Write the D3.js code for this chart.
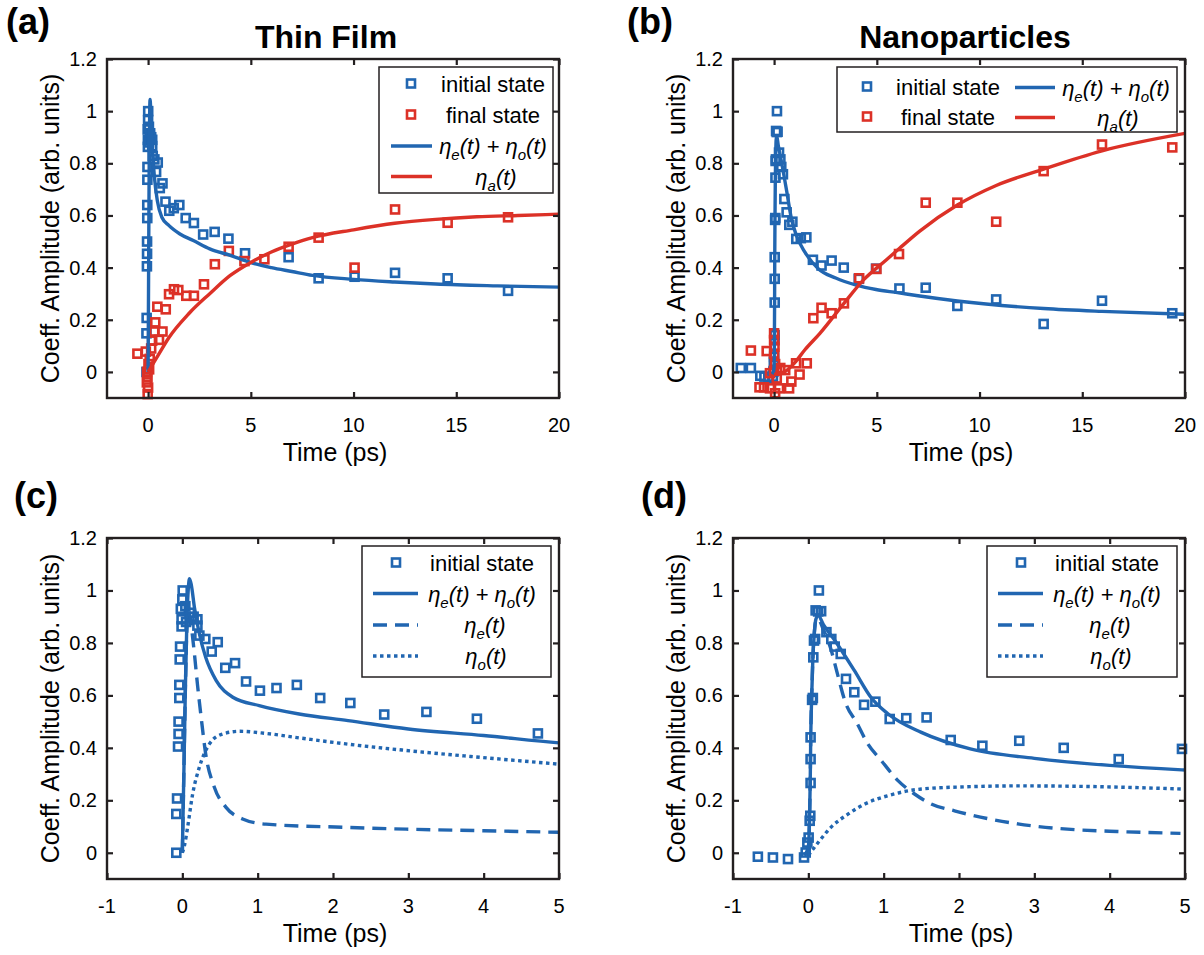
<!DOCTYPE html>
<html>
<head>
<meta charset="utf-8">
<script src="https://cdn.jsdelivr.net/npm/d3@7"></script>
<style>
  body { margin: 0; background: #fff; }
  text { font-family: "Liberation Sans", Arial, Helvetica, sans-serif; fill: #000; }
</style>
</head>
<body>
<svg id="fig" width="1204" height="955"></svg>
<script>
// ---------- data ----------
const longTimeTicks = [0, 5, 10, 15, 20];
const shortTimeTicks = [-1, 0, 1, 2, 3, 4, 5];
const ampTicks = [0, 0.2, 0.4, 0.6, 0.8, 1, 1.2];
const ampTickLabels = ["0", "0.2", "0.4", "0.6", "0.8", "1", "1.2"];

// Thin film: measured initial-state coefficient [time ps, amplitude]
const thinInitial = [
  [-0.08, 0.0], [-0.08, 0.148], [-0.07, 0.207], [-0.057, 0.405], [-0.05, 0.453], [-0.05, 0.5],
  [-0.04, 0.59], [-0.04, 0.64], [-0.035, 0.737], [-0.03, 0.786], [0.005, 1.0], [0.0, 0.966],
  [-0.02, 0.93], [0.1, 0.915], [-0.01, 0.89], [0.15, 0.9], [-0.01, 0.863], [0.05, 0.88],
  [0.04, 0.94], [0.2, 0.89], [0.2, 0.866], [0.226, 0.828], [0.305, 0.815], [0.39, 0.767],
  [0.47, 0.803], [0.57, 0.705], [0.70, 0.723], [0.846, 0.653], [1.03, 0.618], [1.25, 0.628],
  [1.52, 0.64], [1.83, 0.59], [2.23, 0.571], [2.68, 0.527], [3.24, 0.537], [3.91, 0.511],
  [4.72, 0.455], [6.84, 0.44], [8.3, 0.359], [10.05, 0.365], [12.02, 0.38], [14.58, 0.359],
  [17.52, 0.311]
];
// Thin film: measured final-state coefficient
const thinFinal = [
  [-0.52, 0.07], [-0.11, 0.078], [-0.05, 0.0], [-0.03, -0.02], [-0.06, -0.04], [0.0, -0.06],
  [-0.02, -0.085], [0.02, 0.03], [0.08, 0.05], [0.05, 0.01], [0.15, 0.09], [0.2, 0.12],
  [0.3, 0.155], [0.53, 0.123], [0.7, 0.155], [0.35, 0.19], [0.45, 0.25], [0.86, 0.24],
  [1.02, 0.298], [1.26, 0.317], [1.47, 0.314], [1.86, 0.292], [2.23, 0.292], [2.72, 0.336],
  [3.25, 0.413], [3.93, 0.464], [4.69, 0.425], [5.66, 0.432], [6.84, 0.48], [8.3, 0.515],
  [10.05, 0.40], [12.02, 0.623], [14.58, 0.572], [17.52, 0.593]
];
// Thin film model curves
const thinSum = [
  [0, 0], [0.02, 0.3], [0.04, 0.62], [0.06, 0.88], [0.08, 1.01], [0.095, 1.045], [0.12, 1.02],
  [0.16, 0.936], [0.226, 0.835], [0.31, 0.745], [0.45, 0.656], [0.67, 0.593], [1.02, 0.561],
  [1.55, 0.529], [2.2, 0.504], [3, 0.472], [4, 0.447], [5, 0.419], [6, 0.40], [7, 0.385],
  [8, 0.37], [10, 0.355], [12, 0.345], [14, 0.337], [17, 0.33], [20, 0.325]
];
const thinEven = [
  [0, 0], [0.02, 0.3], [0.04, 0.62], [0.06, 0.85], [0.085, 0.92], [0.1, 0.905], [0.115, 0.873],
  [0.16, 0.76], [0.2, 0.644], [0.25, 0.516], [0.31, 0.377], [0.425, 0.25], [0.58, 0.173],
  [0.8, 0.129], [1.11, 0.109], [2.17, 0.097], [2.97, 0.09], [4, 0.084], [5, 0.078]
];
const thinOdd = [
  [0, 0], [0.03, 0.03], [0.07, 0.097], [0.137, 0.224], [0.226, 0.326], [0.36, 0.415],
  [0.535, 0.453], [0.757, 0.463], [1.11, 0.455], [1.55, 0.438], [2.17, 0.415], [2.97, 0.39],
  [3.99, 0.363], [4.99, 0.338]
];
const thinAnti = [
  [0, 0], [0.5, 0.065], [1, 0.13], [2, 0.225], [3, 0.3], [4, 0.37], [5, 0.42], [6, 0.46],
  [7, 0.49], [8, 0.515], [10, 0.545], [12, 0.57], [14, 0.585], [16, 0.595], [18, 0.6], [20, 0.605]
];

// Nanoparticles: measured initial-state coefficient
const nanoInitial = [
  [-1.62, 0.015], [-1.13, 0.015], [-0.67, -0.015], [-0.47, -0.018], [-0.27, -0.024],
  [-0.057, -0.018], [-0.035, 0.001], [-0.013, 0.039], [0.004, 0.058], [0.018, 0.122],
  [0.026, 0.141], [0.03, 0.266], [0.03, 0.357], [0.03, 0.44], [0.05, 0.583], [0.06, 0.59],
  [0.066, 0.745], [0.075, 0.809], [0.09, 0.815], [0.097, 0.924], [0.13, 0.92], [0.14, 1.0],
  [0.17, 0.921], [0.24, 0.841], [0.305, 0.815], [0.35, 0.786], [0.43, 0.758], [0.50, 0.663],
  [0.61, 0.612], [0.74, 0.564], [0.89, 0.576], [1.08, 0.51], [1.3, 0.513], [1.57, 0.516],
  [1.89, 0.43], [2.31, 0.408], [2.8, 0.427], [3.39, 0.40], [4.12, 0.357], [4.96, 0.396],
  [6.1, 0.32], [7.38, 0.323], [8.92, 0.253], [10.81, 0.278], [13.12, 0.184], [15.96, 0.273],
  [19.38, 0.225]
];
// Nanoparticles: measured final-state coefficient
const nanoFinal = [
  [-1.13, 0.082], [-0.36, 0.08], [-0.71, -0.059], [-0.49, -0.059], [-0.2, -0.063], [0.05, -0.082],
  [0.24, -0.063], [0.73, -0.063], [0.84, -0.037], [1.24, -0.01], [1.59, 0.033], [1.07, 0.033],
  [0.54, 0.007], [0.0, 0.148], [0.0, 0.122], [0.02, 0.097], [0.0, 0.07], [0.05, 0.03],
  [0.0, 0.005], [0.13, -0.025], [-0.2, -0.005], [0.3, 0.015], [1.91, 0.206], [2.31, 0.246],
  [2.8, 0.225], [3.4, 0.263], [4.14, 0.359], [4.98, 0.395], [6.08, 0.452], [7.38, 0.649],
  [8.92, 0.649], [10.81, 0.576], [13.12, 0.77], [15.96, 0.872], [19.38, 0.861]
];
// Nanoparticle model curves
const nanoSum = [
  [-0.05, -0.01], [0, 0.02], [0.015, 0.12], [0.025, 0.27], [0.032, 0.44], [0.045, 0.6],
  [0.06, 0.74], [0.08, 0.84], [0.1, 0.89], [0.13, 0.905], [0.2, 0.87], [0.35, 0.81],
  [0.61, 0.695], [0.83, 0.593], [1.06, 0.529], [1.5, 0.459], [2.15, 0.396], [3.0, 0.36],
  [4.0, 0.333], [4.96, 0.316], [6, 0.304], [7, 0.292], [8.92, 0.272], [13.12, 0.243],
  [15.96, 0.232], [20, 0.221]
];
const nanoEven = [
  [-0.05, -0.01], [0, 0.02], [0.015, 0.12], [0.025, 0.27], [0.032, 0.44], [0.045, 0.6],
  [0.06, 0.74], [0.08, 0.84], [0.1, 0.885], [0.13, 0.89], [0.2, 0.85], [0.305, 0.771],
  [0.37, 0.7], [0.5, 0.567], [0.64, 0.497], [0.79, 0.415], [0.97, 0.351], [1.19, 0.275],
  [1.41, 0.224], [1.63, 0.186], [1.94, 0.16], [2.78, 0.11], [3.44, 0.09], [4.1, 0.081],
  [4.94, 0.074]
];
const nanoOdd = [
  [0, -0.01], [0.13, 0.039], [0.3, 0.097], [0.53, 0.148], [0.75, 0.186], [1.06, 0.218],
  [1.5, 0.243], [2.15, 0.252], [2.78, 0.255], [3.66, 0.253], [4.96, 0.243]
];
const nanoAnti = [
  [0, -0.01], [0.5, 0.0], [1, 0.035], [1.5, 0.085], [2.23, 0.148], [3.4, 0.263], [4.34, 0.352],
  [5.47, 0.43], [6.12, 0.475], [7.09, 0.54], [8.92, 0.64], [10.81, 0.715], [13.12, 0.778],
  [15.96, 0.848], [20, 0.915]
];

// ---------- styling ----------
const BLUE = "#2166b1";
const RED = "#dc3127";
const AXIS = "#231f20";
const DASH = "14,8";
const DOT = "3.5,3.5";

const svg = d3.select("#fig");

const sumLabel = [{s: "η"}, {s: "e", sub: true}, {s: "(t) + "}, {s: "η"}, {s: "o", sub: true}, {s: "(t)"}];
const evenLabel = [{s: "η"}, {s: "e", sub: true}, {s: "(t)"}];
const oddLabel = [{s: "η"}, {s: "o", sub: true}, {s: "(t)"}];
const antiLabel = [{s: "η"}, {s: "a", sub: true}, {s: "(t)"}];

const panels = [
  {
    key: "a", letter: "(a)", letterX: 6, letterY: 34, title: "Thin Film", titleX: 326,
    left: 107, right: 559, top: 59, bottom: 398, xDomain: [-2, 20], xTicks: longTimeTicks,
    points: [{data: thinInitial, color: BLUE}, {data: thinFinal, color: RED}],
    curves: [{data: thinSum, color: BLUE}, {data: thinAnti, color: RED}],
    legend: {x: 379, y: 67, w: 174, h: 126, items: [
      {kind: "square", color: BLUE, sx: 411, y: 83.5, label: [{s: "initial state", plain: true}], tx: 493},
      {kind: "square", color: RED, sx: 411, y: 114.5, label: [{s: "final state", plain: true}], tx: 493},
      {kind: "line", color: BLUE, x1: 391, x2: 432, y: 146, label: sumLabel, tx: 493},
      {kind: "line", color: RED, x1: 391, x2: 432, y: 176.5, label: antiLabel, tx: 496}
    ]}
  },
  {
    key: "b", letter: "(b)", letterX: 627, letterY: 34, title: "Nanoparticles", titleX: 965,
    left: 733, right: 1185, top: 59, bottom: 398, xDomain: [-2, 20], xTicks: longTimeTicks,
    points: [{data: nanoInitial, color: BLUE}, {data: nanoFinal, color: RED}],
    curves: [{data: nanoSum, color: BLUE}, {data: nanoAnti, color: RED}],
    legend: {x: 837, y: 67, w: 340, h: 65, items: [
      {kind: "square", color: BLUE, sx: 867, y: 86.5, label: [{s: "initial state", plain: true}], tx: 948},
      {kind: "square", color: RED, sx: 867, y: 116.5, label: [{s: "final state", plain: true}], tx: 948},
      {kind: "line", color: BLUE, x1: 1015, x2: 1055, y: 87.5, label: sumLabel, tx: 1116},
      {kind: "line", color: RED, x1: 1015, x2: 1055, y: 117.5, label: antiLabel, tx: 1118}
    ]}
  },
  {
    key: "c", letter: "(c)", letterX: 14, letterY: 508, title: null,
    left: 107, right: 559, top: 538, bottom: 879, xDomain: [-1, 5], xTicks: shortTimeTicks,
    points: [{data: thinInitial, color: BLUE}],
    curves: [{data: thinSum, color: BLUE}, {data: thinEven, color: BLUE, dash: DASH},
             {data: thinOdd, color: BLUE, dash: DOT}],
    legend: {x: 362, y: 546, w: 189, h: 131, items: [
      {kind: "square", color: BLUE, sx: 396, y: 562.5, label: [{s: "initial state", plain: true}], tx: 482},
      {kind: "line", color: BLUE, x1: 373, x2: 418, y: 593.5, label: sumLabel, tx: 482},
      {kind: "line", color: BLUE, dash: DASH, x1: 373, x2: 418, y: 625, label: evenLabel, tx: 485},
      {kind: "line", color: BLUE, dash: DOT, x1: 373, x2: 418, y: 656, label: oddLabel, tx: 486}
    ]}
  },
  {
    key: "d", letter: "(d)", letterX: 641, letterY: 508, title: null,
    left: 733, right: 1185, top: 538, bottom: 879, xDomain: [-1, 5], xTicks: shortTimeTicks,
    points: [{data: nanoInitial, color: BLUE}],
    curves: [{data: nanoSum, color: BLUE}, {data: nanoEven, color: BLUE, dash: DASH},
             {data: nanoOdd, color: BLUE, dash: DOT}],
    legend: {x: 987, y: 546, w: 190, h: 131, items: [
      {kind: "square", color: BLUE, sx: 1021, y: 562.5, label: [{s: "initial state", plain: true}], tx: 1107},
      {kind: "line", color: BLUE, x1: 998, x2: 1043, y: 593.5, label: sumLabel, tx: 1107},
      {kind: "line", color: BLUE, dash: DASH, x1: 998, x2: 1043, y: 625, label: evenLabel, tx: 1110},
      {kind: "line", color: BLUE, dash: DOT, x1: 998, x2: 1043, y: 656, label: oddLabel, tx: 1111}
    ]}
  }
];

// Legend label: italic symbols with lowered subscripts
function writeLabel(textSel, parts) {
  parts.forEach((p, i) => {
    const ts = textSel.append("tspan").text(p.s);
    if (!p.plain) ts.attr("font-style", "italic");
    if (p.sub) ts.attr("font-size", "15px").attr("dy", 6);
    else if (i > 0 && parts[i - 1].sub) ts.attr("dy", -6);
  });
}

function drawSquares(g, data, x, y, color, xDomain) {
  g.selectAll(null)
    .data(data.filter(d => d[0] >= xDomain[0] && d[0] <= xDomain[1]))
    .join("rect")
    .attr("x", d => x(d[0]) - 4)
    .attr("y", d => y(d[1]) - 4)
    .attr("width", 8).attr("height", 8)
    .attr("fill", "none")
    .attr("stroke", color)
    .attr("stroke-width", 2.6);
}

panels.forEach(p => {
  const x = d3.scaleLinear().domain(p.xDomain).range([p.left, p.right]);
  const y = d3.scaleLinear().domain([-0.1, 1.2]).range([p.bottom, p.top]);
  const g = svg.append("g").attr("class", "panel-" + p.key);

  const clipId = "clip-" + p.key;
  g.append("clipPath").attr("id", clipId)
    .append("rect").attr("x", p.left).attr("y", p.top)
    .attr("width", p.right - p.left).attr("height", p.bottom - p.top);

  // measured markers
  p.points.forEach(s => drawSquares(g, s.data, x, y, s.color, p.xDomain));

  // model curves
  const line = d3.line().x(d => x(d[0])).y(d => y(d[1])).curve(d3.curveMonotoneX);
  p.curves.forEach(c => {
    g.append("path")
      .attr("clip-path", `url(#${clipId})`)
      .attr("d", line(c.data))
      .attr("fill", "none")
      .attr("stroke", c.color)
      .attr("stroke-width", 3.4)
      .attr("stroke-dasharray", c.dash || null);
  });

  // box axes with inward ticks on all four sides
  const tickLen = 6;
  const axB = d3.axisBottom(x).tickValues(p.xTicks).tickSize(tickLen).tickFormat("");
  const axT = d3.axisTop(x).tickValues(p.xTicks).tickSize(tickLen).tickFormat("");
  const axL = d3.axisLeft(y).tickValues(ampTicks).tickSize(tickLen).tickFormat("");
  const axR = d3.axisRight(y).tickValues(ampTicks).tickSize(tickLen).tickFormat("");
  const axes = [
    g.append("g").attr("transform", `translate(0,${p.bottom - tickLen})`).call(axB),
    g.append("g").attr("transform", `translate(0,${p.top + tickLen})`).call(axT),
    g.append("g").attr("transform", `translate(${p.left + tickLen},0)`).call(axL),
    g.append("g").attr("transform", `translate(${p.right - tickLen},0)`).call(axR)
  ];
  axes.forEach(a => {
    a.select(".domain").remove();
    a.selectAll(".tick line").attr("stroke", AXIS).attr("stroke-width", 2.2);
  });
  g.append("rect")
    .attr("x", p.left).attr("y", p.top)
    .attr("width", p.right - p.left).attr("height", p.bottom - p.top)
    .attr("fill", "none").attr("stroke", AXIS).attr("stroke-width", 2.4);

  // tick labels
  g.selectAll(null).data(p.xTicks).join("text")
    .attr("x", d => x(d)).attr("y", p.bottom + 34)
    .attr("text-anchor", "middle").attr("font-size", "20px")
    .text(d => String(d));
  g.selectAll(null).data(ampTicks).join("text")
    .attr("x", p.left - 10).attr("y", d => y(d) + 7)
    .attr("text-anchor", "end").attr("font-size", "20px")
    .text((d, i) => ampTickLabels[i]);

  // axis titles
  g.append("text")
    .attr("x", (p.left + p.right) / 2 + 2).attr("y", p.bottom + 63)
    .attr("text-anchor", "middle").attr("font-size", "25px")
    .text("Time (ps)");
  g.append("text")
    .attr("transform", `translate(${p.left - 48},${(p.top + p.bottom) / 2}) rotate(-90)`)
    .attr("text-anchor", "middle").attr("font-size", "25px")
    .text("Coeff. Amplitude (arb. units)");

  // panel letter and title
  g.append("text").attr("x", p.letterX).attr("y", p.letterY)
    .attr("font-size", "36px").attr("font-weight", "bold").text(p.letter);
  if (p.title) {
    g.append("text").attr("x", p.titleX).attr("y", 48)
      .attr("text-anchor", "middle").attr("font-size", "32px").attr("font-weight", "bold")
      .text(p.title);
  }

  // legend
  const L = p.legend;
  const lg = g.append("g").attr("class", "legend");
  lg.append("rect").attr("x", L.x).attr("y", L.y).attr("width", L.w).attr("height", L.h)
    .attr("fill", "#fff").attr("stroke", AXIS).attr("stroke-width", 1.5);
  L.items.forEach(it => {
    if (it.kind === "square") {
      lg.append("rect").attr("x", it.sx - 4).attr("y", it.y - 4).attr("width", 8).attr("height", 8)
        .attr("fill", "none").attr("stroke", it.color).attr("stroke-width", 2.6);
    } else {
      lg.append("line").attr("x1", it.x1).attr("x2", it.x2).attr("y1", it.y).attr("y2", it.y)
        .attr("stroke", it.color).attr("stroke-width", 3.4)
        .attr("stroke-dasharray", it.dash || null);
    }
    const t = lg.append("text").attr("x", it.tx).attr("y", it.y + 8)
      .attr("text-anchor", "middle").attr("font-size", "22px");
    writeLabel(t, it.label);
  });
});
</script>
</body>
</html>
